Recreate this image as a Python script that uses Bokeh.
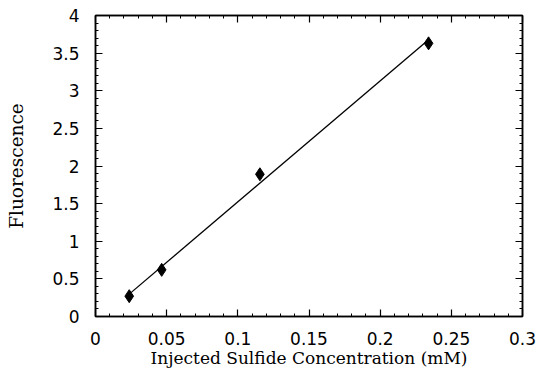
import numpy as np
from bokeh.plotting import figure
from bokeh.models import LinearAxis, FixedTicker, Range1d
from bokeh.embed import file_html
from bokeh.resources import INLINE

# data
conc = [0.0237, 0.0465, 0.1155, 0.234]
fluor = [0.27, 0.62, 1.89, 3.63]
x_ticks = [0, 0.05, 0.1, 0.15, 0.2, 0.25, 0.3]
x_tick_labels = ["0", "0.05", "0.1", "0.15", "0.2", "0.25", "0.3"]
y_ticks = [0, 0.5, 1, 1.5, 2, 2.5, 3, 3.5, 4]
y_tick_labels = ["0", "0.5", "1", "1.5", "2", "2.5", "3", "3.5", "4"]

# least-squares fit line across the data span
slope, intercept = np.polyfit(conc, fluor, 1)
fit_x = [min(conc), max(conc)]
fit_y = [slope * v + intercept for v in fit_x]

p = figure(width=536, height=375, output_backend="svg", toolbar_location=None,
           x_range=Range1d(0, 0.3), y_range=Range1d(0, 4),
           min_border_left=95, min_border_right=14, min_border_top=15, min_border_bottom=59,
           x_axis_label="Injected Sulfide Concentration (mM)", y_axis_label="Fluorescence")
p.background_fill_color = "white"
p.border_fill_color = "white"
p.xgrid.visible = False
p.ygrid.visible = False
p.outline_line_color = "black"
p.outline_line_width = 1.5

p.line(fit_x, fit_y, line_color="black", line_width=1.3)
p.scatter(conc, fluor, marker="diamond", size=13, color="black")

def style(ax, ticks, labels, show_labels):
    ax.ticker = FixedTicker(ticks=ticks, minor_ticks=list(np.round(np.arange(ticks[0], ticks[-1] + 1e-9, (ticks[1] - ticks[0]) / 5), 4)))
    ax.major_label_overrides = {t: l for t, l in zip(ticks, labels)}
    ax.axis_line_color = "black"
    ax.axis_line_width = 1.5
    ax.major_tick_in = 7
    ax.major_tick_out = 0
    ax.minor_tick_in = 3
    ax.minor_tick_out = 0
    ax.major_tick_line_color = "black"
    ax.minor_tick_line_color = "black"
    ax.major_tick_line_width = 1.2
    ax.minor_tick_line_width = 1
    ax.major_label_text_font = "DejaVu Sans"
    ax.major_label_text_font_size = "17px"
    ax.major_label_text_color = "black"
    if not show_labels:
        ax.major_label_text_alpha = 0
        ax.major_label_text_font_size = "1px"

style(p.xaxis[0], x_ticks, x_tick_labels, True)
style(p.yaxis[0], y_ticks, y_tick_labels, True)
p.xaxis[0].major_label_standoff = 15
p.yaxis[0].major_label_standoff = 16
for ax in (p.xaxis[0], p.yaxis[0]):
    ax.axis_label_text_font = "DejaVu Serif"
    ax.axis_label_text_font_style = "normal"
    ax.axis_label_text_color = "black"
p.xaxis[0].axis_label_text_font_size = "17px"
p.yaxis[0].axis_label_text_font_size = "18.5px"
p.xaxis[0].axis_label_standoff = 0
p.yaxis[0].axis_label_standoff = 22

top = LinearAxis()
right = LinearAxis()
style(top, x_ticks, x_tick_labels, False)
style(right, y_ticks, y_tick_labels, False)
p.add_layout(top, "above")
p.add_layout(right, "right")

open("out.html", "w").write(file_html(p, INLINE))
